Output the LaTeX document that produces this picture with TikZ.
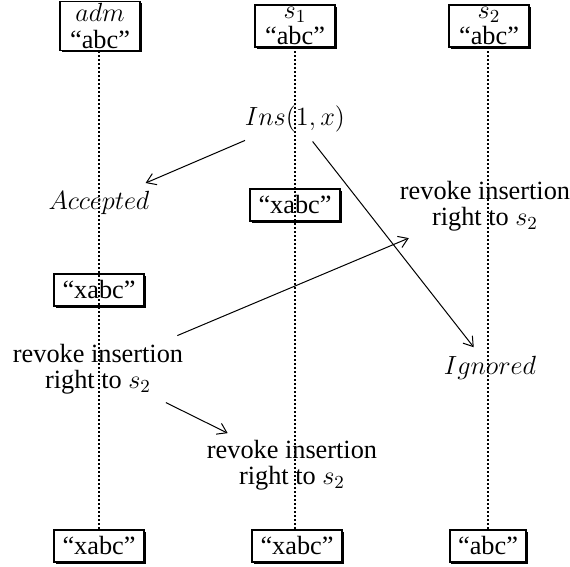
\RequirePackage{fix-cm}
\documentclass[tikz,border=0pt]{standalone}
\usepackage{fontspec}
\setmainfont{Liberation Serif}
\usetikzlibrary{arrows.meta,shadows}
\begin{document}
\begin{tikzpicture}[x=0.5pt,y=-0.5pt,
  every node/.style={font=\fontsize{13.15}{13}\selectfont},
  box/.style={draw, line width=0.9pt, fill=white, inner xsep=4.2pt, inner ysep=3.5pt,
    drop shadow={shadow xshift=0.9pt, shadow yshift=-0.9pt, opacity=1, fill=black}},
  topbox/.style={box, align=center, inner xsep=5pt, inner ysep=1pt, font=\fontsize{13.15}{13.2}\selectfont},
  lbl/.style={inner sep=0pt, align=center},
  life/.style={line width=1.1pt, dash pattern=on 1pt off 1pt},
  msg/.style={line width=0.5pt, -{Straight Barb[length=4.5pt,width=6pt]}}]
\useasboundingbox (0,0) rectangle (570,567);
% top boxes
\node[topbox] (adm) at (100,26) {$adm$\\``abc''};
\node[topbox] (s1) at (295,26) {$s_1$\\``abc''};
\node[topbox] (s2) at (489,26) {$s_2$\\``abc''};
% bottom boxes
\node[box] (b0) at (99,546) {``xabc''};
\node[box] (b1) at (297,546) {``xabc''};
\node[box] (b2) at (488,546) {``abc''};
% middle boxes
\node[box] (x1) at (295,205) {``xabc''};
\node[box] (x0) at (99,290) {``xabc''};
% labels
\node[lbl] (ins) at (295,119) {$Ins(1,x)$};
\node[lbl] (acc) at (99,203) {$Accepted$};
\node[lbl] (ign) at (490,368) {$Ignored$};
\node[lbl] (rr) at (485,206) {revoke insertion\\right to $s_2$};
\node[lbl] (rl) at (98,369) {revoke insertion\\right to $s_2$};
\node[lbl] (rm) at (292,465) {revoke insertion\\right to $s_2$};
% lifelines
\draw[life] (b0.north) -- (b0.north |- adm.south);
\draw[life] (x1.center |- b1.north) -- (x1.center |- s1.south);
\draw[life] (b2.north) -- (b2.north |- s2.south);
% messages
\draw[msg, shorten <=10pt, shorten >=10pt] (ins) -- (acc);
\draw[msg, shorten <=5.7pt, shorten >=5.5pt] (ins) -- (ign);
\draw[msg, shorten <=10.4pt, shorten >=8.7pt] (rl) -- (rr);
\draw[msg, shorten <=9.3pt, shorten >=7.3pt] (rl) -- (rm);
\end{tikzpicture}
\end{document}
